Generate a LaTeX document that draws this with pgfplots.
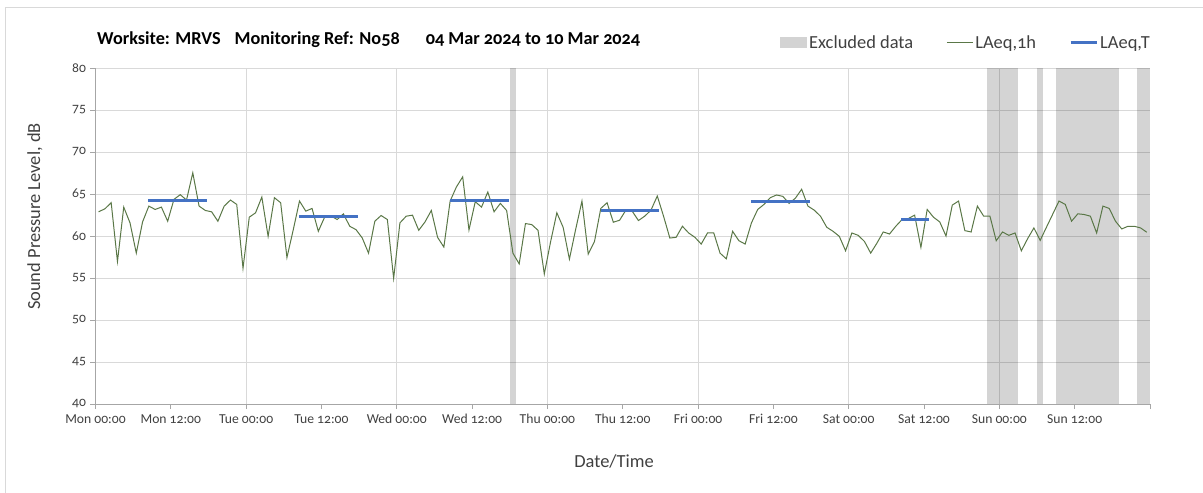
\documentclass[border=0pt]{standalone}
\usepackage{fontspec}
\setmainfont{Carlito}[Numbers=OldStyle]
\usepackage{pgfplots}
\pgfplotsset{compat=1.18}
\definecolor{lineg}{HTML}{5A7747}
\definecolor{lineb}{HTML}{4472C4}
\definecolor{gridg}{HTML}{D9D9D9}
\definecolor{axisg}{HTML}{A6A6A6}
\definecolor{txt}{HTML}{404040}
\definecolor{excl}{HTML}{D3D3D3}
\begin{document}
\begin{tikzpicture}
\path[use as bounding box] (-95.5bp,-89bp) rectangle (1107.5bp,404bp);
\draw[gridg, line width=0.8bp] (-90bp,-89bp) -- (-90bp,396.5bp) -- (1107.5bp,396.5bp);
\begin{axis}[
  name=ax, at={(0,0)}, anchor=south west,
  scale only axis, width=1054.5bp, height=336bp,
  xmin=0, xmax=168, ymin=40, ymax=80,
  axis lines*=left,
  xtick={0,12,...,168},
  xticklabels={Mon 00:00, Mon 12:00, Tue 00:00, Tue 12:00, Wed 00:00, Wed 12:00, Thu 00:00, Thu 12:00, Fri 00:00, Fri 12:00, Sat 00:00, Sat 12:00, Sun 00:00, Sun 12:00, {}},
  minor xtick={24,48,...,144},
  xminorgrids, ymajorgrids,
  ytick={40,45,...,80},
  minor tick length=0pt,
  major tick length=5bp,
  tick align=outside,
  grid style={draw=gridg, line width=0.8bp},
  minor grid style={draw=gridg, line width=0.8bp},
  axis line style={draw=axisg, line width=0.9bp},
  tick style={draw=axisg, line width=0.9bp},
  /pgf/number format/assume math mode=true,
  ticklabel style={font=\fontsize{13.7}{16}\selectfont, text=txt},
  xticklabel style={yshift=-2bp},
  yticklabel style={xshift=-1bp},
  xlabel={Date/Time},
  ylabel={Sound Pressure Level, dB},
  xlabel style={at={(axis description cs:0.4917,0)}, anchor=center, yshift=-57bp, font=\fontsize{18.5}{22}\selectfont, text=txt},
  ylabel style={at={(axis description cs:-0.05737,0.558)}, anchor=center, font=\fontsize{18.5}{22}\selectfont, text=txt},
  legend columns=3,
  legend style={at={(axis description cs:1,1)}, anchor=east, yshift=25bp, xshift=2bp, draw=none, fill=none, inner sep=0pt,
    font=\fontsize{18.5}{22}\selectfont, text=txt,
    nodes={inner xsep=2bp, inner ysep=1bp},
    /tikz/every even column/.append style={column sep=31bp}},
  legend cell align=left,
]
\addplot[fill=black, fill opacity=0.17, draw=none, area legend,
  legend image code/.code={\fill[excl, fill opacity=1] (0bp,-5.5bp) rectangle (27bp,5.5bp);}]
  coordinates {(66,40) (66,80) (67,80) (67,40)} -- cycle;
\addlegendentry{Excluded data}
\addplot[fill=black, fill opacity=0.17, draw=none, forget plot] coordinates {(142,40) (142,80) (147,80) (147,40)} -- cycle;
\addplot[fill=black, fill opacity=0.17, draw=none, forget plot] coordinates {(150,40) (150,80) (151,80) (151,40)} -- cycle;
\addplot[fill=black, fill opacity=0.17, draw=none, forget plot] coordinates {(153,40) (153,80) (163,80) (163,40)} -- cycle;
\addplot[fill=black, fill opacity=0.17, draw=none, forget plot] coordinates {(166,40) (166,80) (168,80) (168,40)} -- cycle;
\addplot[lineg, line width=1bp, mark=none,
  legend image code/.code={\draw[lineg, line width=1bp] (0bp,0bp) -- (26bp,0bp);}]
  table[row sep=\\] {
x y\\
0.5 62.88\\ 1.5 63.24\\ 2.5 63.96\\ 3.5 56.96\\ 4.5 63.44\\ 5.5 61.56\\ 6.5 57.96\\ 7.5 61.68\\
8.5 63.56\\ 9.5 63.16\\ 10.5 63.44\\ 11.5 61.76\\ 12.5 64.36\\ 13.5 64.92\\ 14.5 64.28\\ 15.5 67.52\\
16.5 63.56\\ 17.5 63.04\\ 18.5 62.88\\ 19.5 61.76\\ 20.5 63.56\\ 21.5 64.28\\ 22.5 63.76\\ 23.5 56.16\\
24.5 62.24\\ 25.5 62.76\\ 26.5 64.64\\ 27.5 59.96\\ 28.5 64.56\\ 29.5 63.96\\ 30.5 57.44\\ 31.5 60.72\\
32.5 64.16\\ 33.5 62.96\\ 34.5 63.28\\ 35.5 60.56\\ 36.5 62.24\\ 37.5 62.4\\ 38.5 61.96\\ 39.5 62.64\\
40.5 61.16\\ 41.5 60.76\\ 42.5 59.76\\ 43.5 57.96\\ 44.5 61.76\\ 45.5 62.44\\ 46.5 61.96\\ 47.5 54.96\\
48.5 61.56\\ 49.5 62.36\\ 50.5 62.48\\ 51.5 60.68\\ 52.5 61.68\\ 53.5 63.04\\ 54.5 59.84\\ 55.5 58.68\\
56.5 64.16\\ 57.5 65.84\\ 58.5 67.04\\ 59.5 60.72\\ 60.5 64.08\\ 61.5 63.44\\ 62.5 65.24\\ 63.5 62.88\\
64.5 63.88\\ 65.5 63.04\\ 66.5 57.96\\ 67.5 56.68\\ 68.5 61.48\\ 69.5 61.36\\ 70.5 60.68\\ 71.5 55.48\\
72.5 59.3\\ 73.5 62.76\\ 74.5 61.04\\ 75.5 57.24\\ 76.5 60.8\\ 77.5 64.16\\ 78.5 57.84\\ 79.5 59.36\\
80.5 63.28\\ 81.5 63.96\\ 82.5 61.64\\ 83.5 61.88\\ 84.5 63.08\\ 85.5 62.96\\ 86.5 61.84\\ 87.5 62.36\\
88.5 63.08\\ 89.5 64.76\\ 90.5 62.36\\ 91.5 59.76\\ 92.5 59.84\\ 93.5 61.16\\ 94.5 60.36\\ 95.5 59.84\\
96.5 59.04\\ 97.5 60.36\\ 98.5 60.36\\ 99.5 57.96\\ 100.5 57.28\\ 101.5 60.56\\ 102.5 59.44\\ 103.5 59.04\\
104.5 61.56\\ 105.5 63.16\\ 106.5 63.76\\ 107.5 64.56\\ 108.5 64.88\\ 109.5 64.72\\ 110.5 63.88\\ 111.5 64.5\\
112.5 65.56\\ 113.5 63.56\\ 114.5 63.08\\ 115.5 62.36\\ 116.5 61.04\\ 117.5 60.56\\ 118.5 59.96\\ 119.5 58.24\\
120.5 60.36\\ 121.5 60.08\\ 122.5 59.36\\ 123.5 57.96\\ 124.5 59.16\\ 125.5 60.48\\ 126.5 60.24\\ 127.5 61.16\\
128.5 61.96\\ 129.5 62.08\\ 130.5 62.48\\ 131.5 58.64\\ 132.5 63.16\\ 133.5 62.24\\ 134.5 61.68\\ 135.5 60.0\\
136.5 63.68\\ 137.5 64.16\\ 138.5 60.64\\ 139.5 60.48\\ 140.5 63.56\\ 141.5 62.36\\ 142.5 62.36\\ 143.5 59.44\\
144.5 60.48\\ 145.5 60.08\\ 146.5 60.36\\ 147.5 58.24\\ 148.5 59.68\\ 149.5 60.96\\ 150.5 59.48\\ 151.5 61.04\\
152.5 62.6\\ 153.5 64.16\\ 154.5 63.76\\ 155.5 61.76\\ 156.5 62.64\\ 157.5 62.56\\ 158.5 62.36\\ 159.5 60.36\\
160.5 63.56\\ 161.5 63.28\\ 162.5 61.76\\ 163.5 60.84\\ 164.5 61.16\\ 165.5 61.16\\ 166.5 60.96\\ 167.5 60.44\\
};
\addlegendentry{LAeq,1h}
\addplot[lineb, line width=3bp, mark=none,
  legend image code/.code={\draw[lineb, line width=3bp] (0bp,0bp) -- (26bp,0bp);}]
  coordinates {(8.4,64.2) (17.8,64.2)};
\addlegendentry{LAeq,T}
\addplot[lineb, line width=3bp, mark=none, forget plot] coordinates {(32.5,62.36) (41.8,62.36)};
\addplot[lineb, line width=3bp, mark=none, forget plot] coordinates {(56.5,64.28) (65.9,64.28)};
\addplot[lineb, line width=3bp, mark=none, forget plot] coordinates {(80.5,63.08) (89.7,63.08)};
\addplot[lineb, line width=3bp, mark=none, forget plot] coordinates {(104.4,64.16) (113.8,64.16)};
\addplot[lineb, line width=3bp, mark=none, forget plot] coordinates {(128.4,61.92) (132.8,61.92)};
\end{axis}
\node[anchor=west, font=\bfseries\fontsize{18.3}{22}\selectfont, text=black, inner sep=0pt] at (1.5bp,364bp)
  {Worksite: MRVS\hspace{14bp}Monitoring Ref: No58\hspace{26bp}04 Mar 2024 to 10 Mar 2024};
\end{tikzpicture}
\end{document}
